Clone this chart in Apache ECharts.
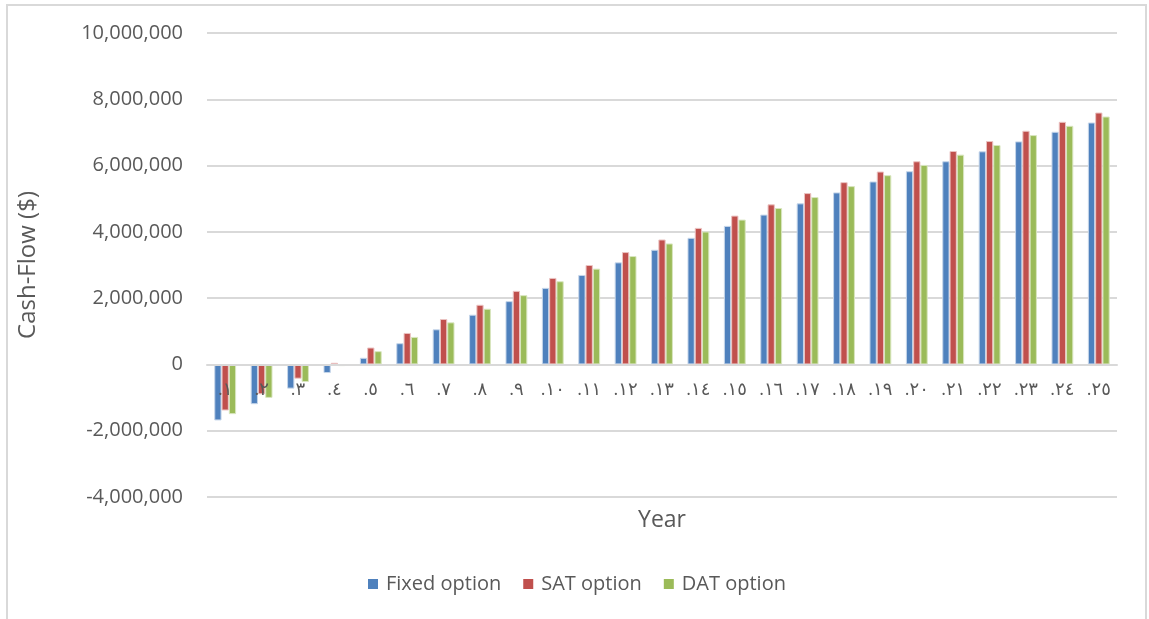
<!DOCTYPE html>
<html>
<head>
<meta charset="utf-8">
<script src="https://cdn.jsdelivr.net/npm/echarts@6/dist/echarts.min.js"></script>
<style>
  html, body { margin: 0; padding: 0; background: #ffffff; }
  #chart { width: 1149px; height: 619px; }
</style>
</head>
<body>
<div id="chart"></div>
<script>
// Year labels (Arabic-Indic numerals)
const years = ['.١', '.٢', '.٣', '.٤', '.٥', '.٦', '.٧', '.٨', '.٩', '.١٠',
  '.١١', '.١٢', '.١٣', '.١٤', '.١٥', '.١٦', '.١٧', '.١٨', '.١٩', '.٢٠',
  '.٢١', '.٢٢', '.٢٣', '.٢٤', '.٢٥'];

// Cumulative cash-flow per option ($)
const fixedOption = [-1690000, -1200000, -730000, -260000, 200000, 640000, 1060000, 1500000, 1910000, 2310000,
  2700000, 3080000, 3460000, 3820000, 4180000, 4520000, 4860000, 5190000, 5520000, 5830000,
  6130000, 6430000, 6730000, 7020000, 7300000];
const satOption = [-1390000, -900000, -430000, 50000, 510000, 950000, 1370000, 1800000, 2220000, 2610000,
  3000000, 3390000, 3770000, 4120000, 4490000, 4830000, 5170000, 5500000, 5820000, 6130000,
  6440000, 6740000, 7050000, 7320000, 7600000];
const datOption = [-1500000, -1010000, -530000, -50000, 400000, 830000, 1270000, 1680000, 2090000, 2510000,
  2890000, 3270000, 3650000, 4010000, 4370000, 4720000, 5050000, 5380000, 5710000, 6020000,
  6330000, 6620000, 6920000, 7200000, 7480000];

const yTicks = { min: -4000000, max: 10000000, step: 2000000 };

const FONT = '"Open Sans", "DejaVu Sans", sans-serif';
const TEXT = '#595959';

// Plot box
const GRID = { left: 207, right: 32, top: 33, bottom: 122 };
const PLOT_H = 619 - GRID.top - GRID.bottom;
// Distance from the bottom edge up to the zero line, so the category axis sits on y = 0
const zeroLift = PLOT_H * (0 - yTicks.min) / (yTicks.max - yTicks.min);

const chart = echarts.init(document.getElementById('chart'), null, { renderer: 'canvas' });

function barSeries(name, data, color, edge) {
  return {
    name: name,
    type: 'bar',
    data: data,
    barGap: '0%',
    barCategoryGap: '40%',
    itemStyle: { color: color, borderColor: edge, borderWidth: 1 },
    emphasis: { disabled: true }
  };
}

chart.setOption({
  animation: false,
  textStyle: { fontFamily: FONT },
  graphic: [{
    type: 'rect',
    shape: { x: 7, y: 5, width: 1139, height: 640 },
    style: { fill: null, stroke: '#d9d9d9', lineWidth: 2 },
    silent: true
  }],
  grid: Object.assign({ outerBoundsMode: 'none' }, GRID),
  legend: {
    left: 363,
    top: 569,
    icon: 'rect',
    itemWidth: 10,
    itemHeight: 10,
    itemGap: 22,
    itemStyle: { borderWidth: 0 },
    textStyle: { color: TEXT, fontSize: 20, fontFamily: FONT, padding: [0, 0, 0, 3] },
    data: ['Fixed option', 'SAT option', 'DAT option']
  },
  xAxis: {
    type: 'category',
    data: years,
    position: 'bottom',
    offset: -zeroLift,
    z: 3,
    name: 'Year',
    nameLocation: 'middle',
    nameGap: 145,
    nameTextStyle: { color: TEXT, fontSize: 23, fontFamily: FONT },
    axisLine: { onZero: false, lineStyle: { color: '#d9d9d9', width: 2 } },
    axisTick: { show: false },
    axisLabel: { color: TEXT, fontSize: 18, margin: 16, interval: 0, fontFamily: FONT }
  },
  yAxis: {
    type: 'value',
    min: yTicks.min,
    max: yTicks.max,
    interval: yTicks.step,
    name: 'Cash-Flow ($)',
    nameLocation: 'middle',
    nameGap: 167,
    nameTextStyle: { color: TEXT, fontSize: 24, fontFamily: FONT },
    axisLine: { show: false },
    axisTick: { show: false },
    splitLine: { lineStyle: { color: '#d9d9d9', width: 2 } },
    axisLabel: {
      color: TEXT,
      fontSize: 20,
      margin: 24,
      fontFamily: FONT,
      formatter: v => v.toLocaleString('en-US')
    }
  },
  series: [
    barSeries('Fixed option', fixedOption, '#4f81bd', '#c6d6ea'),
    barSeries('SAT option', satOption, '#c0504d', '#ebc4c3'),
    barSeries('DAT option', datOption, '#9bbb59', '#d9e6c0')
  ]
});
</script>
</body>
</html>
